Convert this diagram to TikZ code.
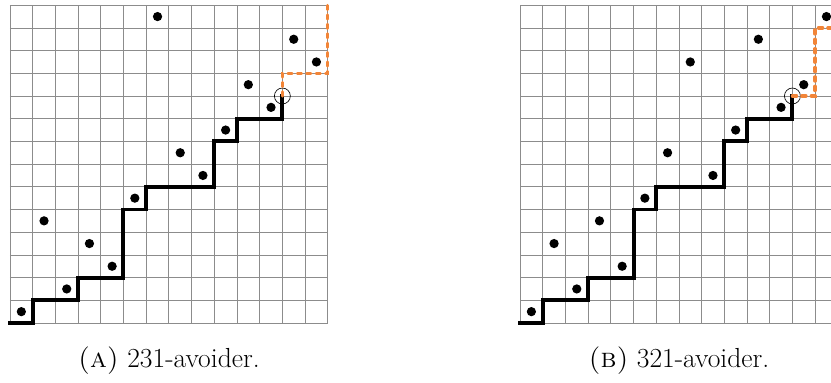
\documentclass[tikz,border=0pt]{standalone}
\usepackage{tikz}

\definecolor{pathorange}{RGB}{242,133,56}

\begin{document}
\begin{tikzpicture}[
    x=0.5cm, y=0.5cm,
    gridline/.style={line width=0.5pt, black!45},
    lowpath/.style={line width=2.5pt, line cap=rect},
    highpath/.style={line width=2.1pt, pathorange, line cap=round,
        dash pattern=on 2.6pt off 3.3pt},
    entry/.style={circle, fill=black, inner sep=0pt, minimum size=5.8pt},
    pivot/.style={circle, draw, thin, inner sep=0pt, minimum size=10pt},
    every node/.style={font=\LARGE}
]


\def\N{14}        % size of the permutation
\def\Off{22.47}   % shift of the second panel


\clip (-0.44,-2.64) rectangle (36.17,14.23);


% (a) 231-avoider
\coordinate (Oa) at (0,0);

\draw[gridline, step=1] (0,0) grid (\N,\N);

\node[entry] (a0) at (0.5,0.5) {};
\node[entry] (a1) at (1.5,4.5) {};
\node[entry] (a2) at (2.5,1.5) {};
\node[entry] (a3) at (3.5,3.5) {};
\node[entry] (a4) at (4.5,2.5) {};
\node[entry] (a5) at (5.5,5.5) {};
\node[entry] (a6) at (6.5,13.5) {};
\node[entry] (a7) at (7.5,7.5) {};
\node[entry] (a8) at (8.5,6.5) {};
\node[entry] (a9) at (9.5,8.5) {};
\node[entry] (a10) at (10.5,10.5) {};
\node[entry] (a11) at (11.5,9.5) {};
\node[entry] (a12) at (12.5,12.5) {};
\node[entry] (a13) at (13.5,11.5) {};

\node[pivot] (pa) at (12,10) {};

\draw[lowpath] (Oa) -| (1,1) -| (3,2) -| (5,5) -| (6,6)
    -| (9,8) -| (10,9) -| (pa.center);

\draw[highpath] (pa.center) |- (14,11) -- (14,14);

\node[anchor=base] (capa) at (7,-1.98) {\textsc{(a)} 231-avoider.};


% (b) 321-avoider
\begin{scope}[xshift=\Off*0.5cm]
\coordinate (Ob) at (0,0);

\draw[gridline, step=1] (0,0) grid (\N,\N);

\node[entry] (b0) at (0.5,0.5) {};
\node[entry] (b1) at (1.5,3.5) {};
\node[entry] (b2) at (2.5,1.5) {};
\node[entry] (b3) at (3.5,4.5) {};
\node[entry] (b4) at (4.5,2.5) {};
\node[entry] (b5) at (5.5,5.5) {};
\node[entry] (b6) at (6.5,7.5) {};
\node[entry] (b7) at (7.5,11.5) {};
\node[entry] (b8) at (8.5,6.5) {};
\node[entry] (b9) at (9.5,8.5) {};
\node[entry] (b10) at (10.5,12.5) {};
\node[entry] (b11) at (11.5,9.5) {};
\node[entry] (b12) at (12.5,10.5) {};
\node[entry] (b13) at (13.5,13.5) {};

\node[pivot] (pb) at (12,10) {};

\draw[lowpath] (Ob) -| (1,1) -| (3,2) -| (5,5) -| (6,6)
    -| (9,8) -| (10,9) -| (pb.center);

\draw[highpath] (pb.center) -| (13,13) -| (14,14);

\node[anchor=base] (capb) at (7,-1.98) {\textsc{(b)} 321-avoider.};
\end{scope}
\end{tikzpicture}
\end{document}
